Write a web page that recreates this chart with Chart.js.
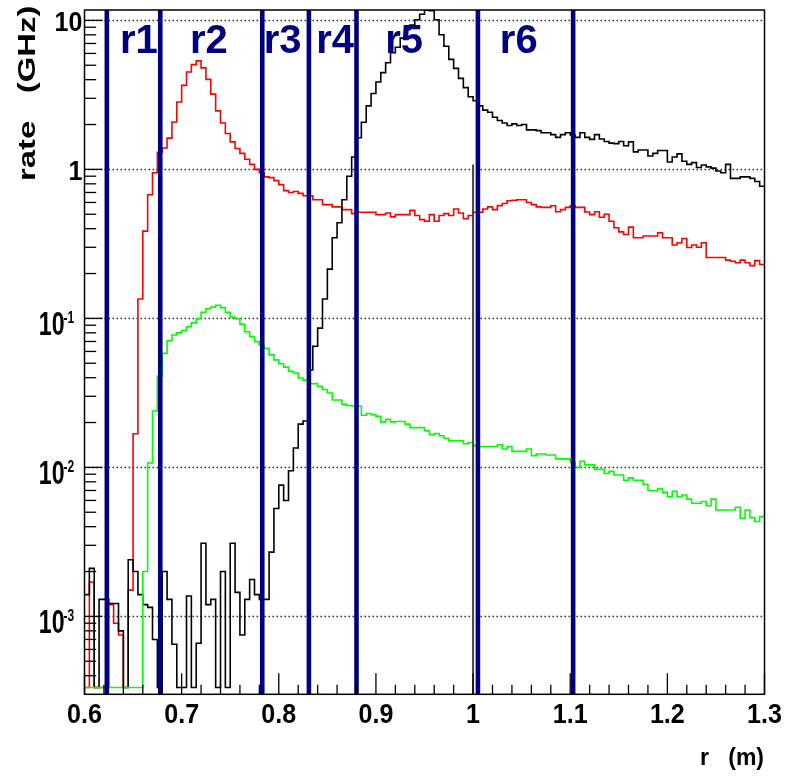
<!DOCTYPE html>
<html>
<head>
<meta charset="utf-8">
<script src="https://cdn.jsdelivr.net/npm/chart.js@4.4.1/dist/chart.umd.min.js"></script>
<style>
  html, body { margin: 0; padding: 0; background: #fff; }
  #wrap { width: 785px; height: 776px; }
</style>
</head>
<body>
<div id="wrap"><canvas id="c" width="785" height="776"></canvas></div>
<script>
// histogram binning, r in metres
const binStart = 0.6;
const binWidth = 0.005;

// rate per bin (GHz), 140 bins from 0.6 to 1.3; 0 = empty bin
const black = [
  0.0014, 0.0021, 0, 0.0013, 0.0013, 0.00122, 0.00122, 0.0008, 0, 0.0024,
  0.002, 0.0014, 0.0012, 0.00115, 0.0007, 0, 0.002, 0.0013, 0.00065, 0,
  0, 0.00137, 0, 0.00066, 0.0031, 0.0012, 0.0013, 0, 0.002, 0,
  0.0031, 0.00145, 0.00075, 0.0013, 0.00177, 0.0014, 0.0013, 0.0013, 0.0027, 0.0053,
  0.0076, 0.006, 0.0095, 0.0135, 0.0195, 0.0205, 0.045, 0.065, 0.086, 0.135,
  0.214, 0.348, 0.438, 0.625, 0.90, 1.21, 1.63, 2.07, 2.67, 3.23,
  3.86, 4.46, 5.2, 6.06, 6.6, 7.6, 8.65, 9.3, 10.1, 11.0,
  11.8, 11.6, 10.1, 8.0, 6.7, 5.47, 4.76, 4.08, 3.54, 3.07,
  2.89, 2.67, 2.50, 2.42, 2.24, 2.13, 2.05, 1.97, 2.02, 1.97,
  2.0, 1.84, 1.84, 1.82, 1.76, 1.76, 1.71, 1.64, 1.71, 1.76,
  1.7, 1.64, 1.76, 1.64, 1.59, 1.71, 1.6, 1.54, 1.50, 1.49,
  1.54, 1.44, 1.53, 1.31, 1.35, 1.35, 1.23, 1.28, 1.34, 1.34,
  1.12, 1.21, 1.27, 1.135, 1.08, 1.11, 1.03, 1.07, 1.04, 1.02,
  0.975, 0.95, 1.08, 0.87, 0.87, 0.89, 0.89, 0.87, 0.83, 0.77
];
const red = [
  0, 0.0017, 0, 0, 0, 0.0012, 0.0009, 0.00075, 0, 0.0015,
  0.0168, 0.135, 0.385, 0.676, 0.95, 1.3, 1.39, 1.62, 2.08, 2.83,
  3.66, 4.5, 5.05, 5.35, 4.8, 4.02, 3.2, 2.47, 2.05, 1.74,
  1.53, 1.38, 1.28, 1.17, 1.08, 1.0, 0.95, 0.89, 0.88, 0.84,
  0.79, 0.72, 0.70, 0.71, 0.69, 0.665, 0.665, 0.625, 0.625, 0.58,
  0.58, 0.56, 0.56, 0.537, 0.537, 0.505, 0.515, 0.515, 0.515, 0.515,
  0.497, 0.497, 0.51, 0.48, 0.497, 0.497, 0.497, 0.531, 0.49, 0.46,
  0.449, 0.497, 0.449, 0.49, 0.505, 0.49, 0.542, 0.51, 0.466, 0.49,
  0.515, 0.515, 0.542, 0.56, 0.537, 0.571, 0.59, 0.616, 0.62, 0.625,
  0.625, 0.60, 0.58, 0.56, 0.556, 0.556, 0.57, 0.52, 0.537, 0.556,
  0.57, 0.556, 0.556, 0.518, 0.497, 0.52, 0.477, 0.50, 0.449, 0.406,
  0.381, 0.366, 0.41, 0.348, 0.348, 0.357, 0.357, 0.357, 0.376, 0.348,
  0.348, 0.311, 0.322, 0.344, 0.299, 0.311, 0.30, 0.322, 0.256, 0.256,
  0.256, 0.256, 0.246, 0.242, 0.236, 0.246, 0.236, 0.226, 0.244, 0.23
];
const green = [
  0, 0, 0, 0, 0, 0, 0, 0, 0, 0,
  0, 0, 0.002, 0.0107, 0.0239, 0.041, 0.0584, 0.071, 0.0773, 0.080,
  0.083, 0.0878, 0.0933, 0.0997, 0.110, 0.116, 0.119, 0.1225, 0.118, 0.110,
  0.102, 0.0997, 0.0915, 0.0813, 0.0754, 0.0698, 0.066, 0.063, 0.0569, 0.0527,
  0.0496, 0.0471, 0.0441, 0.043, 0.0398, 0.0385, 0.0365, 0.0365, 0.035, 0.0333,
  0.0316, 0.0283, 0.0283, 0.0265, 0.026, 0.0258, 0.0258, 0.0224, 0.023, 0.0226,
  0.022, 0.0202, 0.021, 0.0202, 0.0203, 0.0203, 0.0195, 0.0185, 0.0185, 0.0185,
  0.0176, 0.0166, 0.0169, 0.0163, 0.0157, 0.0151, 0.0151, 0.0151, 0.0144, 0.0147,
  0.014, 0.0138, 0.0138, 0.0138, 0.0138, 0.0142, 0.0133, 0.0138, 0.0128, 0.0128,
  0.0128, 0.0133, 0.012, 0.0123, 0.0123, 0.0121, 0.0121, 0.0114, 0.0114, 0.0114,
  0.0108, 0.01, 0.011, 0.0104, 0.0104, 0.0097, 0.0097, 0.0091, 0.0094, 0.0089,
  0.0089, 0.0082, 0.0085, 0.0082, 0.0082, 0.0077, 0.0070, 0.0070, 0.0072, 0.0068,
  0.00635, 0.0069, 0.00635, 0.00652, 0.00612, 0.00574, 0.00574, 0.0059, 0.00553, 0.00612,
  0.00518, 0.00518, 0.00518, 0.00518, 0.0054, 0.00456, 0.00518, 0.0046, 0.00433, 0.00468
];

// region boundaries and their names
const regionEdges = [0.623, 0.678, 0.783, 0.831, 0.880, 1.005, 1.103];
const regionNames = ['r1', 'r2', 'r3', 'r4', 'r5', 'r6'];
const regionLabelX = [0.656, 0.728, 0.804, 0.858, 0.929, 1.047];
const markerLineX = 1.0;
const markerLineTop = 1.08;

// axes
const xMin = 0.6, xMax = 1.3;
const yMin = 3.33e-4, yMax = 11.74;
const xTickLabels = ['0.6', '0.7', '0.8', '0.9', '1', '1.1', '1.2', '1.3'];
const xTickValues = [0.6, 0.7, 0.8, 0.9, 1.0, 1.1, 1.2, 1.3];
const yDecades = [1e-3, 1e-2, 1e-1, 1, 10];
const yDecadeLabels = [['10', '-3'], ['10', '-2'], ['10', '-1'], ['1', ''], ['10', '']];

const FONT = '"Liberation Sans", Arial, Helvetica, sans-serif';

// one point per bin edge, the last one closes the final bin
function toSteps(vals) {
  const pts = vals.map((v, i) => ({ x: binStart + i * binWidth, y: clampY(v) }));
  pts.push({ x: binStart + vals.length * binWidth, y: clampY(vals[vals.length - 1]) });
  return pts;
}
function clampY(v) {
  return Math.min(Math.max(v, yMin), yMax);
}

function drawText(ctx, text, x, y, o) {
  ctx.save();
  ctx.translate(x, y);
  if (o.rot) ctx.rotate(o.rot);
  ctx.scale(o.sx || 1, o.sy || 1);
  ctx.font = (o.bold === false ? '' : 'bold ') + o.size + 'px ' + FONT;
  ctx.fillStyle = o.color || '#000';
  ctx.textAlign = o.align || 'left';
  ctx.textBaseline = 'alphabetic';
  ctx.fillText(text, 0, 0);
  ctx.restore();
}

const background = {
  id: 'background',
  beforeDraw(chart) {
    const ctx = chart.ctx;
    ctx.save();
    ctx.fillStyle = '#fff';
    ctx.fillRect(0, 0, chart.width, chart.height);
    ctx.restore();
  }
};

const gridDots = {
  id: 'gridDots',
  beforeDatasetsDraw(chart) {
    const ctx = chart.ctx, a = chart.chartArea, y = chart.scales.y;
    ctx.save();
    ctx.strokeStyle = '#333';
    ctx.lineWidth = 1.4;
    ctx.setLineDash([1.6, 2.4]);
    yDecades.forEach(v => {
      const py = Math.round(y.getPixelForValue(v)) + 0.5;
      ctx.beginPath();
      ctx.moveTo(a.left, py);
      ctx.lineTo(a.right, py);
      ctx.stroke();
    });
    ctx.restore();
  }
};

const frameAndLabels = {
  id: 'frameAndLabels',
  afterDatasetsDraw(chart) {
    const ctx = chart.ctx, a = chart.chartArea;
    const x = chart.scales.x, y = chart.scales.y;
    ctx.save();

    // thin marker line at r = 1 m
    ctx.strokeStyle = '#444';
    ctx.lineWidth = 2;
    ctx.beginPath();
    ctx.moveTo(x.getPixelForValue(markerLineX), y.getPixelForValue(markerLineTop));
    ctx.lineTo(x.getPixelForValue(markerLineX), a.bottom);
    ctx.stroke();

    // region boundaries
    ctx.strokeStyle = '#000080';
    ctx.lineWidth = 4.6;
    regionEdges.forEach(e => {
      const px = x.getPixelForValue(e);
      ctx.beginPath();
      ctx.moveTo(px, a.top);
      ctx.lineTo(px, a.bottom);
      ctx.stroke();
    });

    // frame
    ctx.strokeStyle = '#000';
    ctx.lineWidth = 1.5;
    ctx.strokeRect(a.left, a.top, a.right - a.left, a.bottom - a.top);

    // x ticks: major every 0.1, minor every 0.02
    ctx.lineWidth = 1.3;
    for (let k = 0; k <= 35; k++) {
      const px = x.getPixelForValue(xMin + k * 0.02);
      const len = k % 5 === 0 ? 21 : 9.5;
      ctx.beginPath();
      ctx.moveTo(px, a.bottom);
      ctx.lineTo(px, a.bottom - len);
      ctx.stroke();
    }
    // y ticks: decades and 2..9 subdivisions
    for (let d = -4; d <= 1; d++) {
      for (let m = 1; m <= 9; m++) {
        const v = m * Math.pow(10, d);
        if (v < yMin || v > yMax) continue;
        const py = y.getPixelForValue(v);
        ctx.beginPath();
        ctx.moveTo(a.left, py);
        ctx.lineTo(a.left + (m === 1 ? 18 : 11.7), py);
        ctx.stroke();
      }
    }
    ctx.restore();

    // x tick labels
    xTickValues.forEach((v, i) => {
      drawText(ctx, xTickLabels[i], x.getPixelForValue(v), 723, { size: 28.5, sx: 0.88, align: 'center' });
    });
    // y tick labels
    yDecades.forEach((v, i) => {
      const py = y.getPixelForValue(v);
      const [base, exp] = yDecadeLabels[i];
      if (exp) {
        drawText(ctx, base, 64.5, py + 17, { size: 33, sx: 0.7, align: 'right' });
        drawText(ctx, exp, 63.5, py + 4.5, { size: 16, sx: 0.75 });
      } else {
        drawText(ctx, base, 82.5, py + 10.3, { size: 28.5, sx: 0.88, align: 'right' });
      }
    });

    // region names
    regionNames.forEach((n, i) => {
      drawText(ctx, n, x.getPixelForValue(regionLabelX[i]), 52.5, { size: 40, align: 'center', color: '#000080' });
    });

    // axis titles
    drawText(ctx, 'rate   (GHz)', 35, 181, { size: 24, rot: -Math.PI / 2, sx: 1.37 });
    drawText(ctx, 'r   (m)', 764, 765, { size: 23, align: 'right' });
  }
};

new Chart(document.getElementById('c'), {
  type: 'line',
  data: {
    datasets: [
      { label: 'green', data: toSteps(green), borderColor: '#00ff00', order: 0 },
      { label: 'black', data: toSteps(black), borderColor: '#000000', order: 1 },
      { label: 'red', data: toSteps(red), borderColor: '#ff0000', order: 2 }
    ]
  },
  options: {
    responsive: false,
    devicePixelRatio: 1,
    animation: false,
    layout: { padding: { left: 84.5, right: 20.5, top: 10, bottom: 81.7 } },
    elements: {
      line: { borderWidth: 1.6, stepped: 'before', tension: 0, fill: false },
      point: { radius: 0, hoverRadius: 0 }
    },
    plugins: { legend: { display: false }, tooltip: { enabled: false } },
    scales: {
      x: { type: 'linear', min: xMin, max: xMax, display: false },
      y: { type: 'logarithmic', min: yMin, max: yMax, display: false }
    }
  },
  plugins: [background, gridDots, frameAndLabels]
});
</script>
</body>
</html>
